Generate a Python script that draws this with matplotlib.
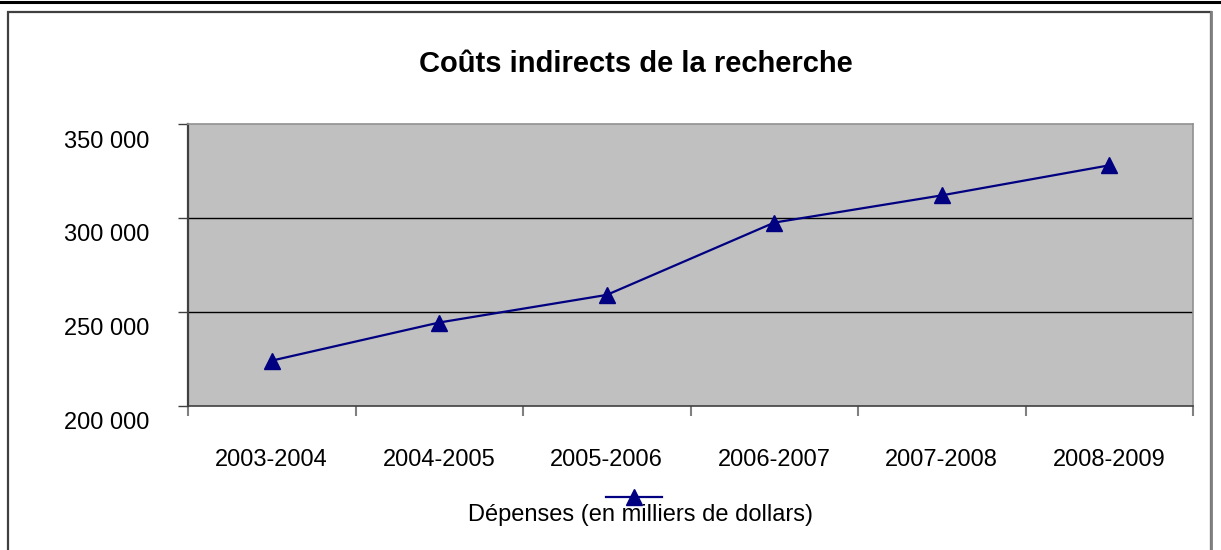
import matplotlib.pyplot as plt
import matplotlib.transforms as mtransforms
from matplotlib.lines import Line2D
from matplotlib.patches import Rectangle

# Données
years = ["2003-2004", "2004-2005", "2005-2006", "2006-2007", "2007-2008", "2008-2009"]
depenses = [224_000, 244_300, 259_000, 297_500, 312_000, 328_000]
y_ticks = [200_000, 250_000, 300_000, 350_000]
y_labels = ["200 000", "250 000", "300 000", "350 000"]

plt.rcParams['font.family'] = ['Liberation Sans', 'DejaVu Sans']

W, H = 1221, 550
fig = plt.figure(figsize=(W / 100, H / 100), dpi=100)

# cadre extérieur façon Excel
fig.add_artist(Line2D([0, 1], [1 - 1.5 / H, 1 - 1.5 / H], color='black', lw=2.2,
                      transform=fig.transFigure))
fig.add_artist(Rectangle((8 / W, -0.05), (1211 - 8) / W, 1.05 - 12 / H,
                         transform=fig.transFigure, fill=False,
                         edgecolor='#404040', lw=1.6))
fig.add_artist(Line2D([1211 / W, 1211 / W], [0, 1 - 12 / H], color='#808080', lw=2,
                      transform=fig.transFigure))

ax = fig.add_axes([188 / W, 1 - 405.7 / H, (1193 - 188) / W, (405.7 - 124) / H])
ax.set_facecolor('#C0C0C0')

x = list(range(len(years)))
line, = ax.plot(x, depenses, color='#000080', lw=1.6, marker='^', markersize=11,
                markerfacecolor='#000080', markeredgecolor='#000080')

ax.set_xlim(-0.5, len(years) - 0.5)
ax.set_ylim(200_000, 350_000)

# grille horizontale
for v in y_ticks[1:-1]:
    ax.axhline(v, color='black', lw=1, zorder=1)

ax.set_yticks(y_ticks)
ax.set_yticklabels(y_labels)
ax.tick_params(axis='y', length=7, width=1, color='#404040', pad=21, labelsize=17)

# ticks majeurs aux frontières, étiquettes au centre des catégories
ax.set_xticks([i - 0.5 for i in range(len(years) + 1)])
ax.set_xticklabels([])
ax.set_xticks(x, minor=True)
ax.set_xticklabels(years, minor=True)
ax.tick_params(axis='x', which='major', length=7, width=1.5, color='#808080')
ax.tick_params(axis='x', which='minor', length=0, pad=31.5, labelsize=17)

off = mtransforms.ScaledTranslation(0, -15 / 100, fig.dpi_scale_trans)
for lab in ax.get_yticklabels():
    lab.set_transform(lab.get_transform() + off)

ax.spines['left'].set_color('#404040')
ax.spines['left'].set_linewidth(1.6)
ax.spines['bottom'].set_color('#404040')
ax.spines['bottom'].set_linewidth(1.2)
ax.spines['top'].set_color('#909090')
ax.spines['top'].set_linewidth(1.2)
ax.spines['right'].set_color('#909090')
ax.spines['right'].set_linewidth(1.2)

fig.text(636 / W, 1 - 64 / H, "Coûts indirects de la recherche", ha='center', va='center',
         fontsize=21, fontweight='bold')

# légende : symbole au-dessus du texte
fig.legend(handles=[line], labels=[''], loc='center',
           bbox_to_anchor=(634 / W, 1 - 499 / H), frameon=False,
           handlelength=2.4, fontsize=17, handletextpad=0, borderpad=0)
fig.text(640 / W, 1 - 515 / H, "Dépenses (en milliers de dollars)", ha='center', va='center',
         fontsize=17)

fig.savefig("out.png", dpi=100)
